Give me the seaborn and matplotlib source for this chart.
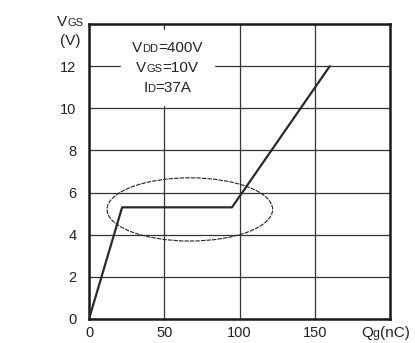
import matplotlib
matplotlib.use("Agg")
import matplotlib.pyplot as plt
from matplotlib.patches import Ellipse
import seaborn as sns
import pandas as pd

# Gate charge curve: gate-source voltage versus total gate charge
qg_nc = [0, 22, 95, 160]
vgs_v = [0, 5.3, 5.3, 12]

x_ticks = [0, 50, 100, 150]
y_ticks = [0, 2, 4, 6, 8, 10, 12]

# Plateau highlight (centre, width, height in data units)
plateau_center = (67, 5.2)
plateau_width = 110
plateau_height = 3.0

sns.set_theme(style="white")
plt.rcParams["font.family"] = ["Liberation Sans", "DejaVu Sans"]

df = pd.DataFrame({"Qg": qg_nc, "VGS": vgs_v})

fig = plt.figure(figsize=(4.15, 3.43), dpi=100)
ax = fig.add_axes([89 / 415, 1 - 319 / 343, (390 - 89) / 415, (319 - 24) / 343])

ax.set_xlim(0, 200)
ax.set_ylim(0, 14)
ax.set_xticks(x_ticks)
ax.set_yticks(y_ticks)
ax.set_xticklabels([str(v) for v in x_ticks], fontsize=10.5, color="#222222")
ax.set_yticklabels([str(v) for v in y_ticks], fontsize=10.5, color="#222222")
ax.tick_params(axis="both", length=0)
ax.tick_params(axis="y", pad=9)
ax.tick_params(axis="x", pad=5)

ax.grid(True, color="#333333", linewidth=0.9)
ax.set_axisbelow(True)
for s in ax.spines.values():
    s.set_color("#1a1a1a")
    s.set_linewidth(1.8)

sns.lineplot(data=df, x="Qg", y="VGS", ax=ax, color="#2a2a2a",
             linewidth=1.6, sort=False, zorder=4)
ax.set_xlabel("")
ax.set_ylabel("")

ax.add_patch(Ellipse(plateau_center, plateau_width, plateau_height,
                     fill=False, edgecolor="#222222", linewidth=0.8,
                     linestyle=(0, (4, 1)), zorder=5))

fig.canvas.draw()
renderer = fig.canvas.get_renderer()
tc = dict(color="#222222", va="baseline")


def mixed_text(parts, x_px, y_px, center=False):
    """Place consecutive text pieces of different sizes on one baseline (figure pixels)."""
    items = []
    for s, size in parts:
        t = fig.text(0, 0, s, fontsize=size, zorder=6, **tc)
        items.append(t)
    widths = [t.get_window_extent(renderer).width for t in items]
    start = x_px - sum(widths) / 2 if center else x_px
    off = 0
    for t, w in zip(items, widths):
        t.set_position(((start + off) / 415, 1 - y_px / 343))
        off += w


# Test-condition box
box_x0, box_x1 = 21, 83
ax.fill_between([box_x0, box_x1], 10.15, 13.7, color="white", zorder=3)
box_cx = ax.transData.transform((52, 0))[0]
conds = [("V", "DD", "=400V", 52), ("V", "GS", "=10V", 72), ("I", "D", "=37A", 92)]
for main, sub, rest, base in conds:
    mixed_text([(main, 11), (sub, 8), (rest, 11)], box_cx, base, center=True)

# Axis titles
mixed_text([("V", 11), ("GS", 8)], 57, 26)
mixed_text([("(V)", 11)], 60, 45)
mixed_text([("Q", 11), ("g", 9), ("(nC)", 11)], 361, 337)

fig.savefig("out.png", dpi=100, facecolor="white")
